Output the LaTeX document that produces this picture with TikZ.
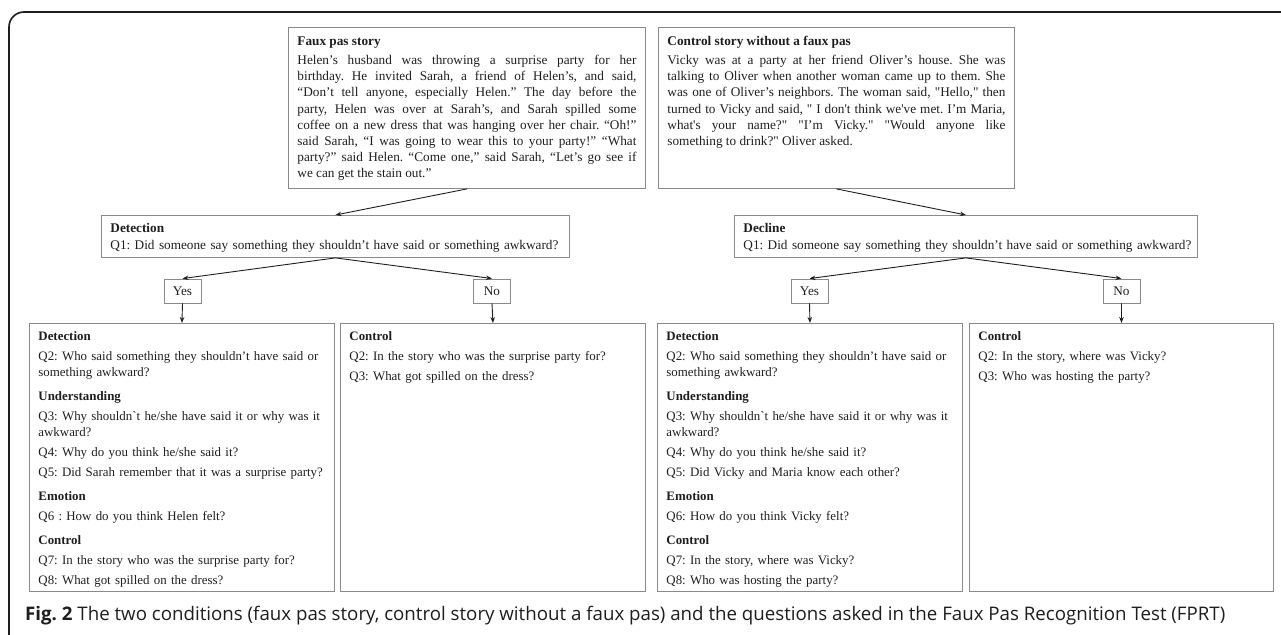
\documentclass[tikz,border=0pt]{standalone}
\usepackage{fontspec}
\newfontfamily\storyfont{Liberation Serif}
\newfontfamily\capfont{Open Sans}
\usetikzlibrary{arrows.meta}
\definecolor{boxline}{HTML}{8A8A8A}
\definecolor{ink}{HTML}{1E1E1E}
\hyphenpenalty=10000
\exhyphenpenalty=10000
\tolerance=9999
\frenchspacing

\tikzstyle{story} = [draw=boxline, line width=0.9pt, anchor=north west, inner xsep=9pt, inner ysep=9pt, text height=9pt, align=justify, text=ink, font=\storyfont\fontsize{13.25}{16.2}\selectfont, execute at begin node={\setlength{\parindent}{0pt}}]
\tikzstyle{questions} = [story, align=left, text height=8.5pt, text depth=241.5pt, text width=287pt, font=\storyfont\fontsize{12.9}{16}\selectfont, execute at begin node={\setlength{\parskip}{3.8pt}}]
\tikzstyle{answer} = [draw=boxline, line width=0.9pt, minimum width=37pt, minimum height=24pt, inner sep=0pt, text=ink, font=\storyfont\fontsize{13.25}{16.2}\selectfont]

\newcommand{\qsect}[1]{\par\vspace{4.4pt}\textbf{#1}\par}

\begin{document}
\begin{tikzpicture}[x=1pt, y=-1pt, >={Stealth[length=6pt,width=4.5pt]}]
		\useasboundingbox (0,0) rectangle (1281,634);
		\draw[line width=1.6pt, ink, rounded corners=15pt] (1290,12) -- (9,12) -- (9,645);
		% the two stories
		\node[story, text width=339pt, text depth=134pt] (faux) at (288,27) {\textbf{Faux pas story}\par\vspace{2.8pt}
			Helen’s husband was throwing a surprise party for her\linebreak
			birthday. He invited Sarah, a friend of Helen’s, and said,\linebreak
			“Don’t tell anyone, especially Helen.” The day before the\linebreak
			party, Helen was over at Sarah’s, and Sarah spilled some\linebreak
			coffee on a new dress that was hanging over her chair. “Oh!”\linebreak
			said Sarah, “I was going to wear this to your party!” “What\linebreak
			party?” said Helen. “Come one,” said Sarah, “Let’s go see if\linebreak
			we can get the stain out.”};
		\node[story, text width=338pt, text depth=134pt] (ctrl) at (658,27) {\textbf{Control story without a faux pas}\par\vspace{2.8pt}
			Vicky was at a party at her friend Oliver’s house. She was\linebreak
			talking to Oliver when another woman came up to them. She\linebreak
			was one of Oliver’s neighbors. The woman said, "Hello," then\linebreak
			turned to Vicky and said, " I don't think we've met. I’m Maria,\linebreak
			what's your name?" "I’m Vicky." "Would anyone like\linebreak
			something to drink?" Oliver asked.};
		% first question
		\node[story, align=left, text width=450pt, text height=8.5pt, text depth=15.5pt] (det) at (101,215) {\textbf{Detection}\par \mbox{Q1: Did someone say something they shouldn’t have said or something awkward?}};
		\node[story, align=left, text width=445pt, text height=8.5pt, text depth=15.5pt] (dec) at (734,215) {\textbf{Decline}\par \mbox{Q1: Did someone say something they shouldn’t have said or something awkward?}};
		\foreach \x/\n/\t in {182.5/yesA/Yes, 492/noA/No, 809.5/yesB/Yes, 1121.5/noB/No}
			\node[answer] (\n) at (\x,291) {\t};
		% follow-up questions
		\node[questions] (fpdet) at (29,323) {\textbf{Detection}\par
			\mbox{Q2: Who said something they shouldn’t have said or}\newline something awkward?
			\qsect{Understanding}
			\mbox{Q3: Why shouldn`t he/she have said it or why was it}\newline awkward?\par
			Q4: Why do you think he/she said it?\par
			\mbox{Q5: Did Sarah remember that it was a surprise party?}
			\qsect{Emotion}
			Q6 : How do you think Helen felt?
			\qsect{Control}
			Q7: In the story who was the surprise party for?\par
			Q8: What got spilled on the dress?};
		\node[questions] (fpctrl) at (340,323) {\textbf{Control}\par
			Q2: In the story who was the surprise party for?\par
			Q3: What got spilled on the dress?};
		\node[questions] (cdet) at (657,323) {\textbf{Detection}\par
			\mbox{Q2: Who said something they shouldn’t have said or}\newline something awkward?
			\qsect{Understanding}
			\mbox{Q3: Why shouldn`t he/she have said it or why was it}\newline awkward?\par
			Q4: Why do you think he/she said it?\par
			Q5: Did Vicky and Maria know each other?
			\qsect{Emotion}
			Q6: How do you think Vicky felt?
			\qsect{Control}
			Q7: In the story, where was Vicky?\par
			Q8: Who was hosting the party?};
		\node[questions, text width=286pt] (cctrl) at (969,323) {\textbf{Control}\par
			Q2: In the story, where was Vicky?\par
			Q3: Who was hosting the party?};
		\foreach \a/\b in {faux/det, ctrl/dec, det/yesA, det/noA, dec/yesB, dec/noB, yesA/fpdet, noA/fpctrl, yesB/cdet, noB/cctrl}
			\draw[->, line width=0.9pt, ink] (\a.south) -- (\b.north);
		\node[anchor=base west, inner sep=0pt, text=ink, font=\capfont\fontsize{18.7}{20}\selectfont] (caption) at (25,620) {\textbf{Fig. 2} The two conditions (faux pas story, control story without a faux pas) and the questions asked in the Faux Pas Recognition Test (FPRT)};
	\end{tikzpicture}
\end{document}
